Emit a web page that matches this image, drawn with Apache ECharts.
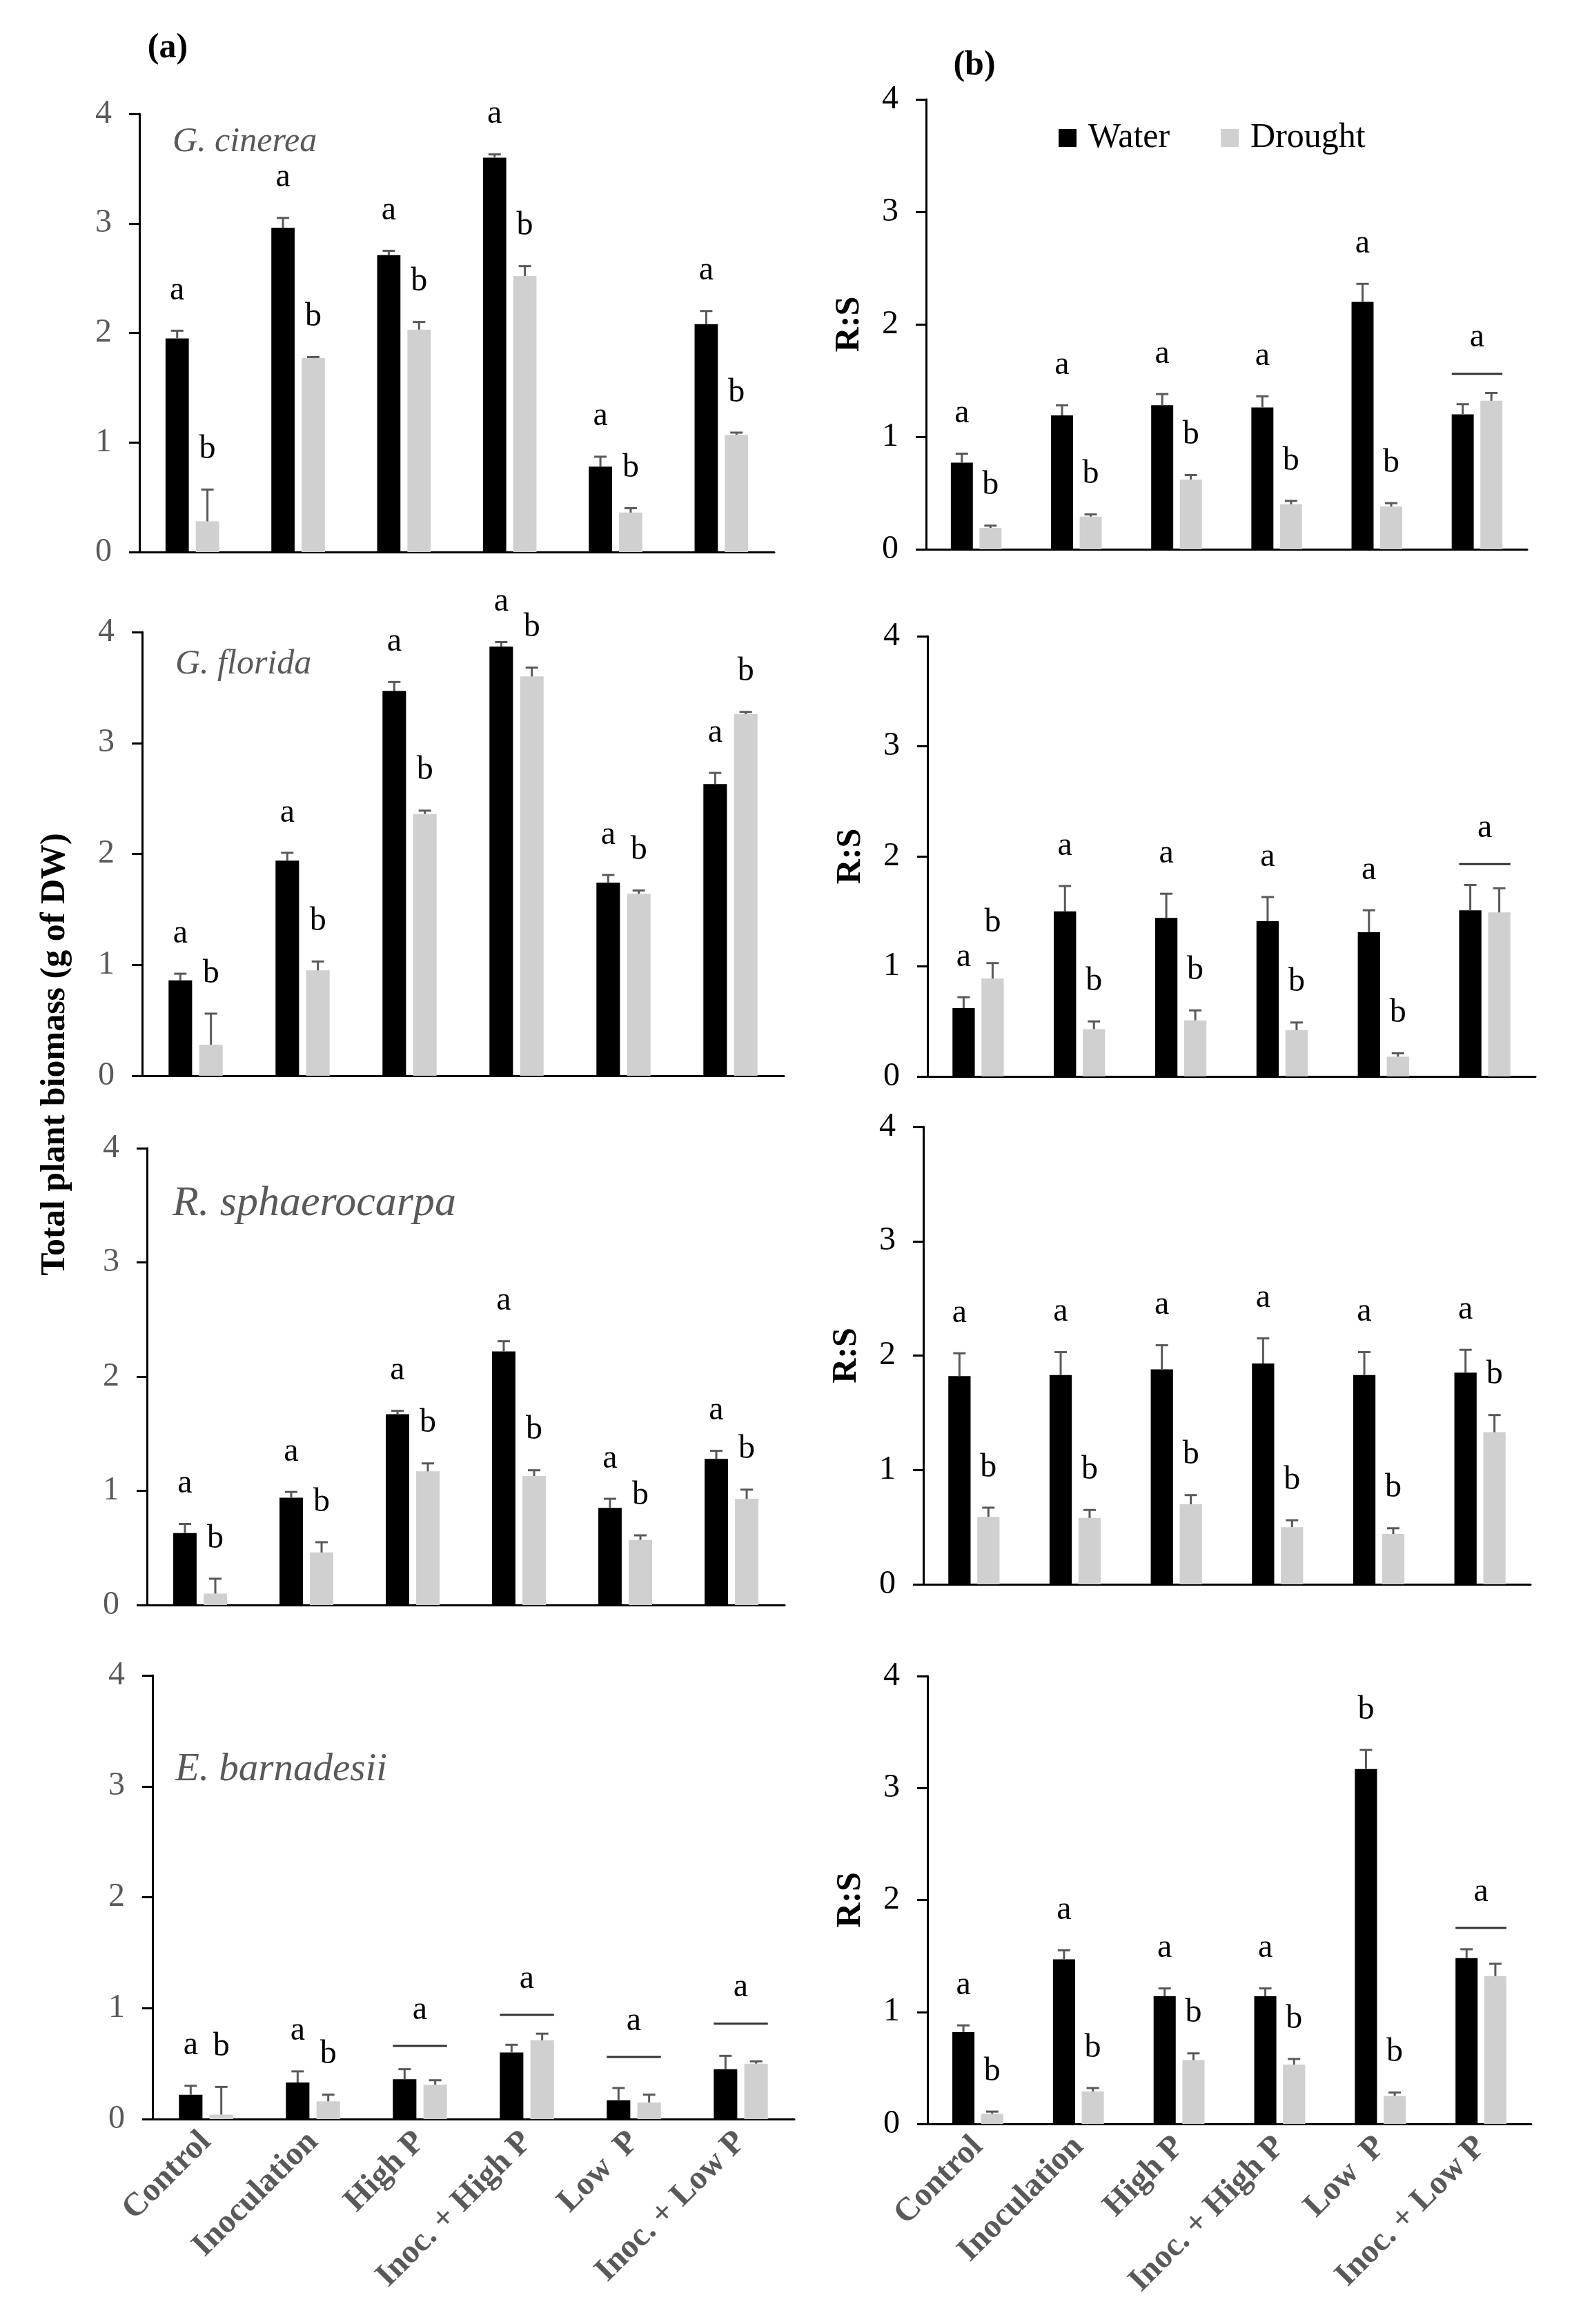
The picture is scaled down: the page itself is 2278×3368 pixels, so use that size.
<!DOCTYPE html>
<html>
<head>
<meta charset="UTF-8">
<title>Total plant biomass and R:S</title>
<style>
  html, body { margin: 0; padding: 0; background: #fff; }
  #chart { width: 2278px; height: 3368px; }
</style>
<script src="https://cdn.jsdelivr.net/npm/echarts@6/dist/echarts.min.js"></script>
</head>
<body>
<div id="chart"></div>
<script>
// treatments on the x axis
var treatments = ['Control', 'Inoculation', 'High P', 'Inoc. + High P', 'Low  P', 'Inoc. + Low P'];

// G. cinerea - total biomass (a) and R:S (b)
var cinereaBioWater = [1.95, 2.96, 2.71, 3.60, 0.78, 2.08];
var cinereaBioWaterErr = [0.07, 0.09, 0.04, 0.03, 0.09, 0.12];
var cinereaBioDrought = [0.28, 1.77, 2.03, 2.52, 0.36, 1.07];
var cinereaBioDroughtErr = [0.29, 0.01, 0.07, 0.09, 0.04, 0.02];
var cinereaBioLetters = ['ab', 'ab', 'ab', 'ab', 'ab', 'ab'];

var cinereaRsWater = [0.77, 1.19, 1.28, 1.26, 2.20, 1.20];
var cinereaRsWaterErr = [0.08, 0.09, 0.10, 0.10, 0.16, 0.09];
var cinereaRsDrought = [0.19, 0.29, 0.62, 0.40, 0.38, 1.32];
var cinereaRsDroughtErr = [0.02, 0.02, 0.04, 0.03, 0.03, 0.07];
var cinereaRsLetters = ['ab', 'ab', 'ab', 'ab', 'ab', 'a'];
var cinereaRsLine = [null, null, null, null, null, 1.56];

// G. florida
var floridaBioWater = [0.86, 1.94, 3.47, 3.87, 1.74, 2.63];
var floridaBioWaterErr = [0.06, 0.07, 0.08, 0.04, 0.07, 0.10];
var floridaBioDrought = [0.28, 0.95, 2.36, 3.60, 1.64, 3.26];
var floridaBioDroughtErr = [0.28, 0.08, 0.03, 0.08, 0.03, 0.02];
var floridaBioLetters = ['ab', 'ab', 'ab', 'ab', 'ab', 'ab'];

var floridaRsWater = [0.62, 1.50, 1.44, 1.41, 1.31, 1.51];
var floridaRsWaterErr = [0.10, 0.23, 0.22, 0.22, 0.20, 0.23];
var floridaRsDrought = [0.89, 0.43, 0.51, 0.42, 0.18, 1.49];
var floridaRsDroughtErr = [0.14, 0.07, 0.09, 0.07, 0.03, 0.22];
var floridaRsLetters = ['ab', 'ab', 'ab', 'ab', 'ab', 'a'];
var floridaRsLine = [null, null, null, null, null, 1.93];

// R. sphaerocarpa
var sphaeroBioWater = [0.63, 0.94, 1.67, 2.22, 0.85, 1.28];
var sphaeroBioWaterErr = [0.08, 0.05, 0.03, 0.09, 0.08, 0.07];
var sphaeroBioDrought = [0.10, 0.46, 1.17, 1.13, 0.57, 0.93];
var sphaeroBioDroughtErr = [0.13, 0.09, 0.07, 0.05, 0.04, 0.08];
var sphaeroBioLetters = ['ab', 'ab', 'ab', 'ab', 'ab', 'ab'];

var sphaeroRsWater = [1.82, 1.83, 1.88, 1.93, 1.83, 1.85];
var sphaeroRsWaterErr = [0.20, 0.20, 0.21, 0.22, 0.20, 0.20];
var sphaeroRsDrought = [0.59, 0.58, 0.70, 0.50, 0.44, 1.33];
var sphaeroRsDroughtErr = [0.08, 0.07, 0.08, 0.06, 0.05, 0.15];
var sphaeroRsLetters = ['ab', 'ab', 'ab', 'ab', 'ab', 'ab'];

// E. barnadesii
var barnaBioWater = [0.22, 0.33, 0.36, 0.60, 0.17, 0.45];
var barnaBioWaterErr = [0.08, 0.10, 0.09, 0.07, 0.11, 0.12];
var barnaBioDrought = [0.04, 0.16, 0.31, 0.71, 0.15, 0.50];
var barnaBioDroughtErr = [0.25, 0.06, 0.04, 0.06, 0.07, 0.02];
var barnaBioLetters = ['ab', 'ab', 'a', 'a', 'a', 'a'];
var barnaBioLine = [null, null, 0.66, 0.94, 0.56, 0.86];

var barnaRsWater = [0.82, 1.47, 1.14, 1.14, 3.17, 1.48];
var barnaRsWaterErr = [0.06, 0.08, 0.07, 0.07, 0.17, 0.08];
var barnaRsDrought = [0.09, 0.29, 0.57, 0.53, 0.25, 1.32];
var barnaRsDroughtErr = [0.02, 0.03, 0.06, 0.05, 0.03, 0.11];
var barnaRsLetters = ['ab', 'ab', 'ab', 'ab', 'bb', 'a'];
var barnaRsLine = [null, null, null, null, null, 1.75];

var FONT = 'Liberation Serif';
var GREY_TXT = '#595959';

// panel layout (pixels) + which arrays go where
var panels = [
  { grid: { left: 202, top: 165, width: 920, height: 635 }, right: false, bottom: false,
    water: cinereaBioWater, waterErr: cinereaBioWaterErr, drought: cinereaBioDrought, droughtErr: cinereaBioDroughtErr, letters: cinereaBioLetters, line: null },
  { grid: { left: 1342, top: 144, width: 871, height: 652 }, right: true, bottom: false,
    water: cinereaRsWater, waterErr: cinereaRsWaterErr, drought: cinereaRsDrought, droughtErr: cinereaRsDroughtErr, letters: cinereaRsLetters, line: cinereaRsLine },
  { grid: { left: 206, top: 916, width: 930, height: 643 }, right: false, bottom: false,
    water: floridaBioWater, waterErr: floridaBioWaterErr, drought: floridaBioDrought, droughtErr: floridaBioDroughtErr, letters: floridaBioLetters, line: null },
  { grid: { left: 1344, top: 922, width: 881, height: 638 }, right: true, bottom: false,
    water: floridaRsWater, waterErr: floridaRsWaterErr, drought: floridaRsDrought, droughtErr: floridaRsDroughtErr, letters: floridaRsLetters, line: floridaRsLine },
  { grid: { left: 213, top: 1664, width: 924, height: 662 }, right: false, bottom: false,
    water: sphaeroBioWater, waterErr: sphaeroBioWaterErr, drought: sphaeroBioDrought, droughtErr: sphaeroBioDroughtErr, letters: sphaeroBioLetters, line: null },
  { grid: { left: 1338, top: 1633, width: 880, height: 663 }, right: true, bottom: false,
    water: sphaeroRsWater, waterErr: sphaeroRsWaterErr, drought: sphaeroRsDrought, droughtErr: sphaeroRsDroughtErr, letters: sphaeroRsLetters, line: null },
  { grid: { left: 221, top: 2428, width: 930, height: 643 }, right: false, bottom: true,
    water: barnaBioWater, waterErr: barnaBioWaterErr, drought: barnaBioDrought, droughtErr: barnaBioDroughtErr, letters: barnaBioLetters, line: barnaBioLine },
  { grid: { left: 1344, top: 2429, width: 875, height: 649 }, right: true, bottom: true,
    water: barnaRsWater, waterErr: barnaRsWaterErr, drought: barnaRsDrought, droughtErr: barnaRsDroughtErr, letters: barnaRsLetters, line: barnaRsLine }
];

var BAR_W = 0.22;   // fraction of band
var BAR_GAP = 0.3;  // fraction of bar width

function letterStyle(txt) {
  return { text: txt, fontSize: 48, fontFamily: FONT, fill: '#000', align: 'center', verticalAlign: 'middle' };
}

function errorSeries(p, i) {
  return {
    type: 'custom',
    xAxisIndex: i,
    yAxisIndex: i,
    silent: true,
    z: 5,
    data: treatments.map(function (t, k) { return [k]; }),
    renderItem: function (params, api) {
      var k = api.value(0);
      var c = api.coord([k, 0]);
      var band = api.size([1, 0])[0];
      var bw = band * BAR_W;
      var off = bw / 2 + bw * BAR_GAP / 2;
      var grouped = p.line && p.line[k] != null;
      var kids = [];
      var sets = [[-off, p.water[k], p.waterErr[k]], [off, p.drought[k], p.droughtErr[k]]];
      sets.forEach(function (s, j) {
        var x = c[0] + s[0];
        var yv = api.coord([k, s[1]])[1];
        var yt = api.coord([k, s[1] + s[2]])[1];
        kids.push({ type: 'line', shape: { x1: x, y1: yv, x2: x, y2: yt }, style: { stroke: '#595959', lineWidth: 3 } });
        kids.push({ type: 'line', shape: { x1: x - 9, y1: yt, x2: x + 9, y2: yt }, style: { stroke: '#595959', lineWidth: 3 } });
        if (!grouped) {
          kids.push({ type: 'text', x: x, y: yt - 58, style: letterStyle(p.letters[k].charAt(j)) });
        }
      });
      if (grouped) {
        var yl = api.coord([k, p.line[k]])[1];
        kids.push({ type: 'line', shape: { x1: c[0] - off - bw / 2, y1: yl, x2: c[0] + off + bw / 2, y2: yl }, style: { stroke: '#333', lineWidth: 3 } });
        kids.push({ type: 'text', x: c[0], y: yl - 52, style: letterStyle(p.letters[k]) });
      }
      return { type: 'group', children: kids };
    }
  };
}

var grids = [], xAxes = [], yAxes = [], series = [];
panels.forEach(function (p, i) {
  grids.push(p.grid);
  xAxes.push({
    type: 'category', gridIndex: i, data: treatments,
    axisLine: { lineStyle: { color: '#000', width: 3 } },
    axisTick: { show: false },
    axisLabel: p.bottom ? {
      show: true, interval: 0, rotate: 45, margin: 26,
      fontSize: 48, fontWeight: 'bold', fontFamily: FONT, color: GREY_TXT
    } : { show: false }
  });
  yAxes.push({
    type: 'value', gridIndex: i, min: 0, max: 4, interval: 1,
    axisLine: { show: true, lineStyle: { color: '#000', width: 3 } },
    axisTick: { show: true, length: 15, lineStyle: { color: '#000', width: 3 } },
    splitLine: { show: false },
    axisLabel: { fontSize: 48, fontFamily: FONT, color: p.right ? '#000' : GREY_TXT, margin: 40 },
    name: p.right ? 'R:S' : '',
    nameLocation: 'middle', nameGap: 86, nameRotate: 90,
    nameTextStyle: { fontSize: 50, fontWeight: 'bold', fontFamily: FONT, color: '#000' }
  });
  series.push({
    name: 'Water', type: 'bar', xAxisIndex: i, yAxisIndex: i,
    data: p.water, barWidth: (BAR_W * 100) + '%', barGap: (BAR_GAP * 100) + '%',
    itemStyle: { color: '#000000' }, silent: true
  });
  series.push({
    name: 'Drought', type: 'bar', xAxisIndex: i, yAxisIndex: i,
    data: p.drought, barWidth: (BAR_W * 100) + '%', barGap: (BAR_GAP * 100) + '%',
    itemStyle: { color: '#d0d0d0' }, silent: true
  });
  series.push(errorSeries(p, i));
});

function label(x, y, txt, size, extra) {
  var st = { text: txt, fontSize: size, fontFamily: FONT, fill: '#000', align: 'left', verticalAlign: 'middle' };
  for (var key in extra) st[key] = extra[key];
  return { type: 'text', x: x, y: y, style: st };
}

var graphics = [
  label(243, 70, '(a)', 50, { fontWeight: 'bold', align: 'center' }),
  label(1412, 95, '(b)', 50, { fontWeight: 'bold', align: 'center' }),
  label(250, 206, 'G. cinerea', 50, { fontStyle: 'italic', fill: GREY_TXT }),
  label(254, 963, 'G. florida', 50, { fontStyle: 'italic', fill: GREY_TXT }),
  label(250, 1745, 'R. sphaerocarpa', 62, { fontStyle: 'italic', fill: GREY_TXT }),
  label(254, 2565, 'E. barnadesii', 57, { fontStyle: 'italic', fill: GREY_TXT }),
  {
    type: 'text', x: 80, y: 1528, rotation: Math.PI / 2,
    style: { text: 'Total plant biomass (g of DW)', fontSize: 50, fontWeight: 'bold', fontFamily: FONT, fill: '#000', align: 'center', verticalAlign: 'middle' }
  }
];

var chart = echarts.init(document.getElementById('chart'));
chart.setOption({
  backgroundColor: '#fff',
  animation: false,
  legend: {
    data: ['Water', 'Drought'],
    left: 1529, top: 170,
    icon: 'rect', itemWidth: 26, itemHeight: 26, itemGap: 74,
    textStyle: { fontSize: 50, fontFamily: FONT, color: '#000', padding: [0, 0, 0, 12] }
  },
  grid: grids,
  xAxis: xAxes,
  yAxis: yAxes,
  series: series,
  graphic: graphics
});
</script>
</body>
</html>
